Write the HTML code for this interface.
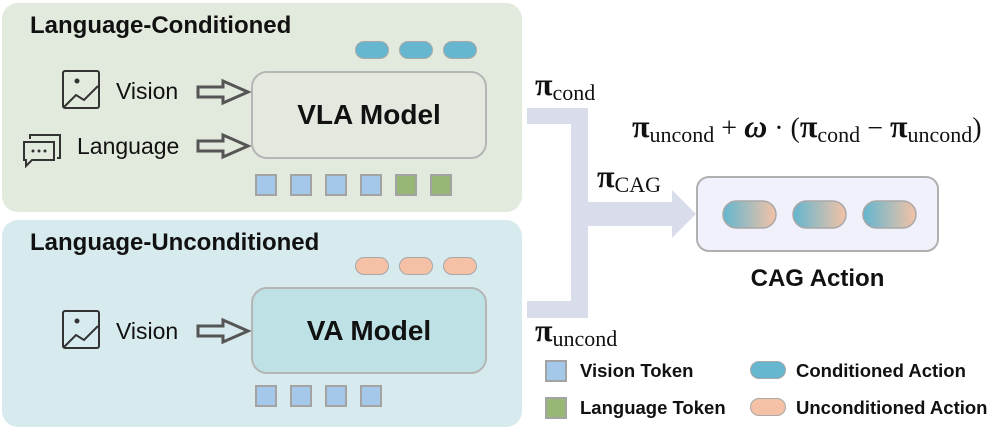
<!DOCTYPE html>
<html><head><meta charset="utf-8"><style>
body{margin:0;width:997px;height:431px;background:#fff;position:relative;overflow:hidden;font-family:"Liberation Sans",sans-serif}
.a{position:absolute}
.panel{position:absolute;border-radius:16px}
.title{position:absolute;font-weight:bold;font-size:24px;color:#111}
.box{position:absolute;border:2px solid #b5b5b5;border-radius:16px;box-sizing:border-box;display:flex;align-items:center;justify-content:center;font-weight:bold;font-size:28px;color:#111}
.pill{position:absolute;width:34px;height:18px;border-radius:9px;box-sizing:border-box;border:1.5px solid #a8a8a8}
.c{background:#66b6cf}.u{background:#f4c1a6}
.tok{position:absolute;width:22px;height:22px;box-sizing:border-box;border:2px solid #a3a3a3}
.v{background:#a3c8ea}.l{background:#97b774}
.lbl{position:absolute;font-size:23px;color:#111}
.m{position:absolute;font-family:"Liberation Serif",serif;font-size:28px;color:#111;white-space:nowrap}
.m b{font-size:32px}
.m sub{font-size:22px;vertical-align:-5px}
.lg{position:absolute;font-weight:bold;font-size:18.5px;color:#111}
</style></head><body>
<div class="panel" style="left:2px;top:3px;width:520px;height:209px;background:#e2e9dd"></div>
<div class="panel" style="left:2px;top:220px;width:520px;height:207px;background:#d7ebee"></div>
<div class="title" style="left:30px;top:12px">Language-Conditioned</div>
<div class="title" style="left:30px;top:229px">Language-Unconditioned</div>

<div class="pill c" style="left:355px;top:41px"></div><div class="pill c" style="left:399px;top:41px"></div><div class="pill c" style="left:443px;top:41px"></div>
<div class="pill u" style="left:355px;top:257px"></div><div class="pill u" style="left:399px;top:257px"></div><div class="pill u" style="left:443px;top:257px"></div>

<div class="box" style="left:251px;top:71px;width:236px;height:88px;background:#e4e9df">VLA Model</div>
<div class="box" style="left:251px;top:287px;width:236px;height:87px;background:#bde1e5">VA Model</div>

<div class="tok v" style="left:255px;top:174px"></div><div class="tok v" style="left:290px;top:174px"></div><div class="tok v" style="left:325px;top:174px"></div><div class="tok v" style="left:360px;top:174px"></div><div class="tok l" style="left:395px;top:174px"></div><div class="tok l" style="left:430px;top:174px"></div>
<div class="tok v" style="left:255px;top:385px"></div><div class="tok v" style="left:290px;top:385px"></div><div class="tok v" style="left:325px;top:385px"></div><div class="tok v" style="left:360px;top:385px"></div>

<svg class="a" style="left:0;top:0" width="997" height="431">
 <defs>
  <g id="img"><rect x="1" y="1" width="36" height="37" rx="2" fill="none" stroke="#333" stroke-width="2"/><circle cx="15" cy="11" r="2.5" fill="#333"/><polyline points="2,37 14,25 22,30 36,16" fill="none" stroke="#333" stroke-width="2"/></g>
  <path id="arr" d="M0,-5 H25 V-11 L50,0 L25,11 V5 H0 Z" fill="none" stroke="#555" stroke-width="3"/>
 </defs>
 <use href="#img" x="62" y="70"/>
 <use href="#img" x="62" y="310"/>
 <g fill="none" stroke="#333" stroke-width="2">
  <path d="M30,139 V135 H60 V158 H57"/>
  <path d="M24,142 H54 V160 H32 L26,166 V160 H24 Z"/>
 </g>
 <circle cx="33" cy="151" r="1.5" fill="#333"/><circle cx="39" cy="151" r="1.5" fill="#333"/><circle cx="45" cy="151" r="1.5" fill="#333"/>
 <use href="#arr" x="198" y="92"/>
 <use href="#arr" x="198" y="146"/>
 <use href="#arr" x="198" y="331"/>
 <g fill="#d9dcea">
  <rect x="527" y="108" width="61" height="16"/>
  <rect x="571" y="108" width="17" height="210"/>
  <rect x="527" y="301" width="61" height="17"/>
  <rect x="588" y="202" width="84" height="24"/>
  <polygon points="672,190 696,214 672,238"/>
 </g>
 <defs><linearGradient id="g" x1="0" x2="1"><stop offset="0" stop-color="#62b6cf"/><stop offset="1" stop-color="#f4c2a6"/></linearGradient></defs>
 <rect x="697" y="177" width="241" height="74" rx="12" fill="#f1f1fb" stroke="#b0b0b0" stroke-width="2"/>
 <rect x="723" y="201" width="53" height="27" rx="13.5" fill="url(#g)" stroke="#a8a8a8" stroke-width="1.5"/>
 <rect x="793" y="201" width="53" height="27" rx="13.5" fill="url(#g)" stroke="#a8a8a8" stroke-width="1.5"/>
 <rect x="863" y="201" width="53" height="27" rx="13.5" fill="url(#g)" stroke="#a8a8a8" stroke-width="1.5"/>
</svg>

<div class="lbl" style="left:116px;top:78px">Vision</div>
<div class="lbl" style="left:77px;top:133px">Language</div>
<div class="lbl" style="left:116px;top:318px">Vision</div>

<div class="m" style="left:535px;top:66px"><b>π</b><sub>cond</sub></div>
<div class="m" style="left:597px;top:158px"><b>π</b><sub>CAG</sub></div>
<div class="m" style="left:535px;top:312px"><b>π</b><sub>uncond</sub></div>
<div class="m" style="left:632px;top:108px"><b>π</b><sub>uncond</sub> + <b><i>ω</i></b> · (<b>π</b><sub>cond</sub> − <b>π</b><sub>uncond</sub>)</div>

<div class="a" style="left:697px;top:265px;width:241px;text-align:center;font-weight:bold;font-size:24px;color:#111">CAG Action</div>

<div class="tok v" style="left:545px;top:360px"></div>
<div class="tok l" style="left:545px;top:397px"></div>
<div class="lg" style="left:580px;top:360px">Vision Token</div>
<div class="lg" style="left:580px;top:397px">Language Token</div>
<div class="pill c" style="left:750px;top:361px;width:36px"></div>
<div class="pill u" style="left:750px;top:398px;width:36px"></div>
<div class="lg" style="left:796px;top:360px">Conditioned Action</div>
<div class="lg" style="left:796px;top:397px">Unconditioned Action</div>
</body></html>
